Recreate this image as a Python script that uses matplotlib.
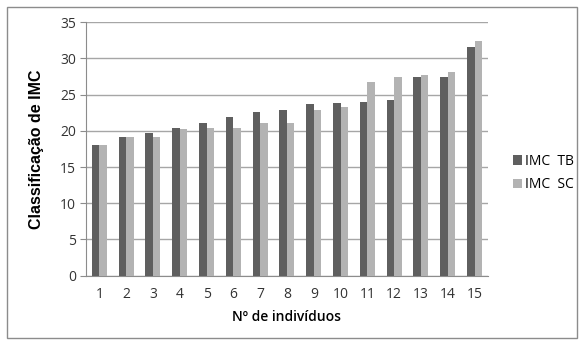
import numpy as np
import matplotlib.pyplot as plt
from matplotlib.patches import Rectangle

individuos = [str(i) for i in range(1, 16)]
imc_tb = [18.0, 19.1, 19.7, 20.4, 21.1, 21.9, 22.6, 22.9, 23.7, 23.9, 24.0, 24.3, 27.5, 27.5, 31.6]
imc_sc = [18.0, 19.1, 19.1, 20.3, 20.4, 20.4, 21.1, 21.1, 22.9, 23.3, 26.7, 27.5, 27.7, 28.1, 32.4]
yticks = [0, 5, 10, 15, 20, 25, 30, 35]

plt.rcParams['font.family'] = ['Open Sans', 'DejaVu Sans']

fig = plt.figure(figsize=(5.83, 3.45), dpi=100)
fig.patches.append(Rectangle((0.012, 0.02), 0.978, 0.96, transform=fig.transFigure,
                             fill=False, edgecolor='#8c8c8c', linewidth=1))
ax = fig.add_axes([0.1475, 0.2009, 0.6895, 0.7345])

x = np.arange(len(individuos))
w = 0.28
ax.bar(x - w / 2, imc_tb, w, color='#5f5f5f', label='IMC  TB', zorder=3)
ax.bar(x + w / 2, imc_sc, w, color='#b3b3b3', label='IMC  SC', zorder=3)

ax.set_xlim(-0.5, len(individuos) - 0.5)
ax.set_ylim(0, 35)
ax.set_yticks(yticks)
ax.set_xticks(x)
ax.set_xticklabels(individuos)
ax.grid(axis='y', color='#a6a6a6', linewidth=1, zorder=0)
for s in ['top', 'right']:
    ax.spines[s].set_visible(False)
for s in ['left', 'bottom']:
    ax.spines[s].set_color('#8c8c8c')
ax.tick_params(axis='y', length=4, color='#8c8c8c', labelsize=10, labelcolor='#333333', pad=3)
ax.tick_params(axis='x', length=0, labelsize=10, labelcolor='#333333', pad=8)

ax.set_ylabel('Classificação de IMC', fontsize=11.5, fontweight='bold',
              family='Liberation Sans', labelpad=12)
ax.set_xlabel('Nº de indivíduos', fontsize=10, fontweight='semibold', labelpad=6)

ax.legend(loc='center left', bbox_to_anchor=(1.03, 0.405), frameon=False,
          fontsize=10, handlelength=0.7, handleheight=0.7, handletextpad=0.2,
          labelspacing=0.6)

fig.savefig('out.png', dpi=100)
